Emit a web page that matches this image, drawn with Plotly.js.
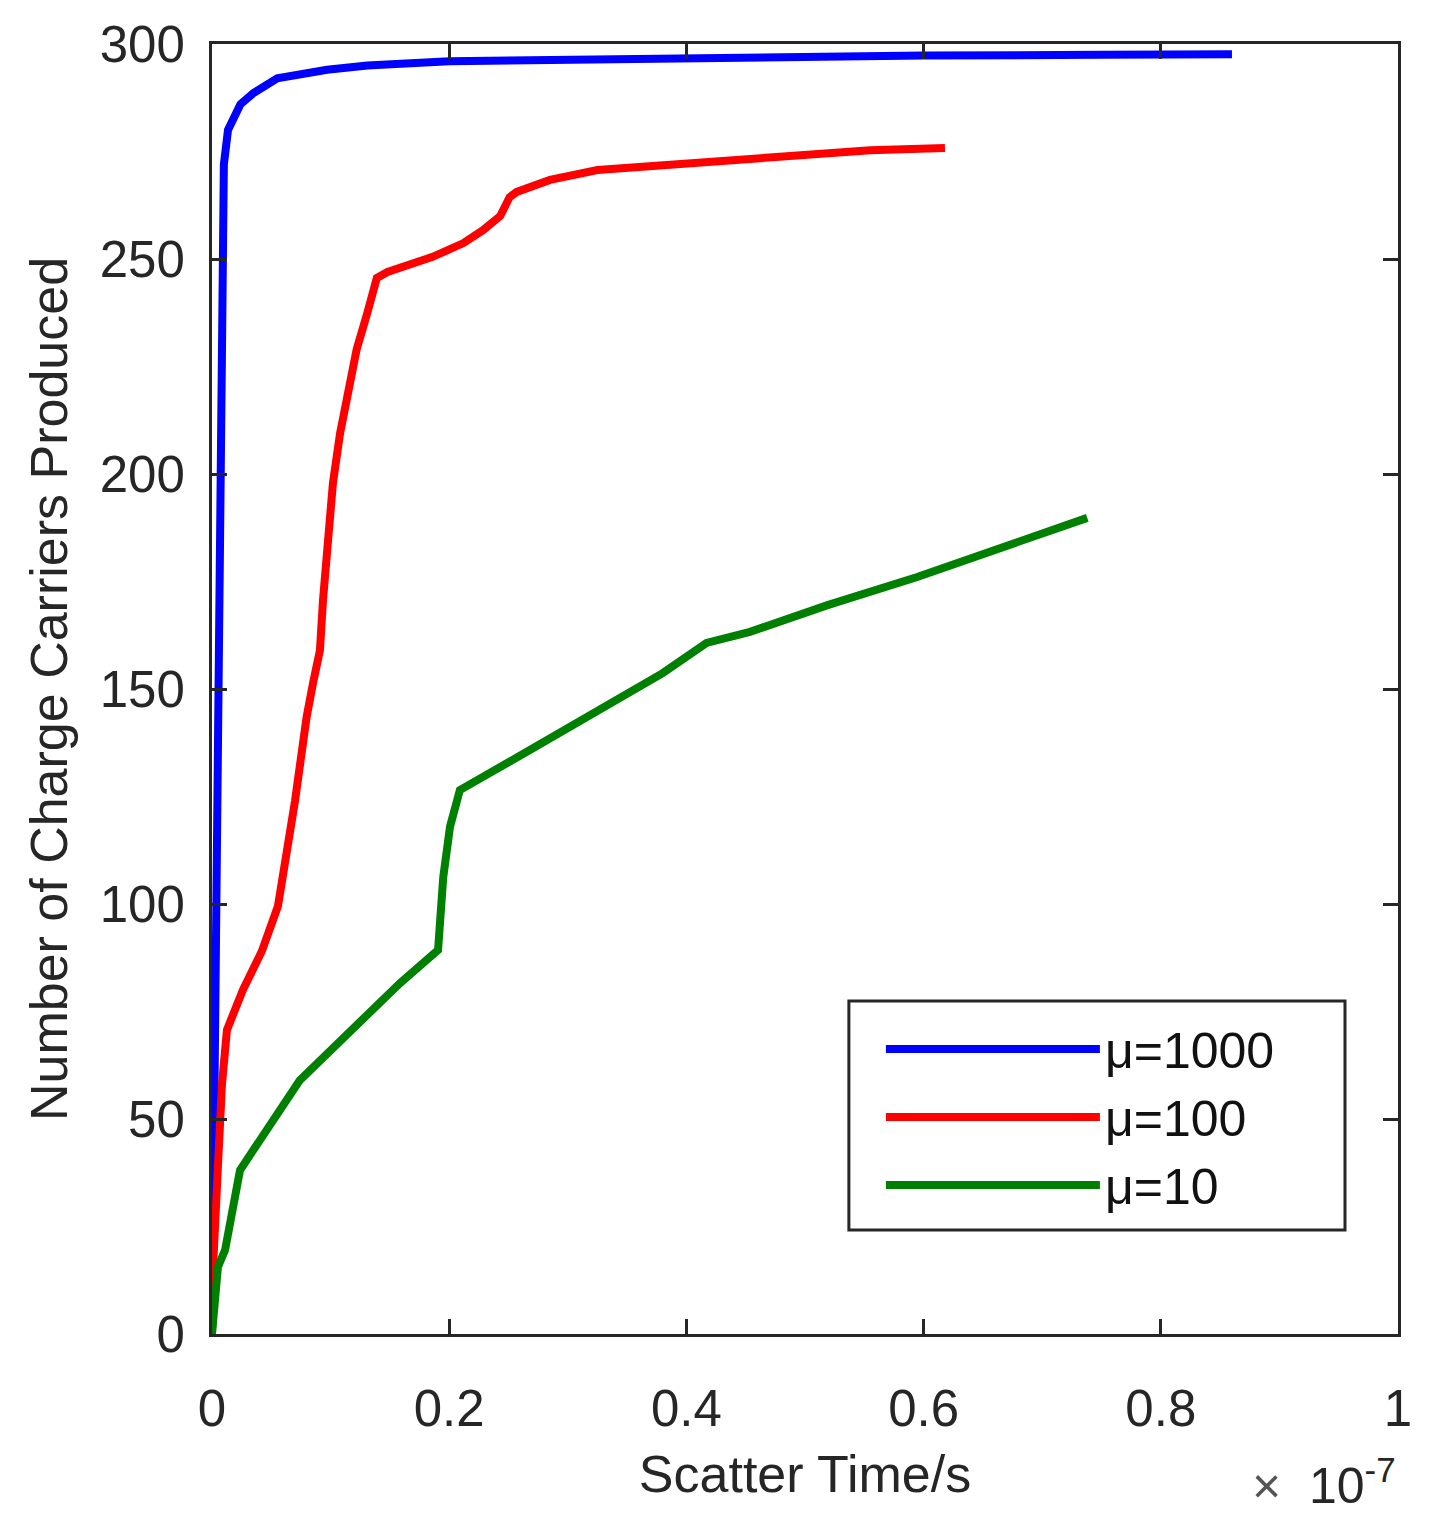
<!DOCTYPE html>
<html>
<head>
<meta charset="utf-8">
<script src="https://cdn.plot.ly/plotly-3.0.1.min.js"></script>
<style>
  body { margin: 0; background: #fff; }
  #chart { width: 1432px; height: 1536px; }
</style>
</head>
<body>
<div id="chart"></div>
<script>
// time in units of 1e-7 s, carriers produced
var tBlue = [0, 0.001, 0.002, 0.0025, 0.003, 0.004, 0.0055, 0.0075, 0.0085, 0.009, 0.010, 0.0135, 0.024, 0.035, 0.055, 0.097, 0.131, 0.2, 0.33, 0.45, 0.6, 0.75, 0.86];
var nBlue = [0, 30, 65, 90, 105, 124, 160, 210, 235, 257, 272, 280, 286, 288.6, 292, 294, 295, 296, 296.5, 297, 297.3, 297.5, 297.6];

var tRed = [0, 0.0008, 0.005, 0.0084, 0.0126, 0.026, 0.042, 0.0556, 0.070, 0.0742, 0.0798, 0.0852, 0.091, 0.0936, 0.0978, 0.102, 0.108, 0.1136, 0.122, 0.131, 0.139, 0.148, 0.186, 0.212, 0.2285, 0.243, 0.251, 0.257, 0.285, 0.325, 0.411, 0.496, 0.555, 0.618];
var nRed = [0, 15, 39, 58, 70.7, 80, 89, 99.5, 124, 134, 143.5, 151.4, 159, 170.7, 186.3, 198, 209.5, 217.2, 229, 237.5, 245.6, 247, 250.5, 253.7, 256.7, 260, 264.4, 265.6, 268.4, 270.7, 272.5, 274, 275.3, 275.8];

var tGreen = [0, 0.005, 0.011, 0.017, 0.0236, 0.074, 0.110, 0.1585, 0.1906, 0.195, 0.2007, 0.209, 0.268, 0.33, 0.38, 0.417, 0.4536, 0.519, 0.594, 0.738];
var nGreen = [0, 15.6, 19.5, 27.3, 38.1, 59, 68.4, 81.6, 89.3, 106.3, 118, 126.5, 135.8, 145.8, 153.7, 160.7, 163.3, 169.5, 176, 189.8];

var names = ['\u03bc=1000', '\u03bc=100', '\u03bc=10'];
var ink = '#262626';
var fontFam = 'Liberation Sans, Arial, sans-serif';

var trace0 = {x: tBlue, y: nBlue, mode: 'lines', type: 'scatter', name: names[0], line: {color: '#0000ff', width: 8}};
var trace1 = {x: tRed, y: nRed, mode: 'lines', type: 'scatter', name: names[1], line: {color: '#ff0000', width: 8}};
var trace2 = {x: tGreen, y: nGreen, mode: 'lines', type: 'scatter', name: names[2], line: {color: '#008000', width: 8}};

var axisStyle = {
  showline: true, mirror: 'ticks', linecolor: ink, linewidth: 3,
  ticks: 'inside', ticklen: 15, tickwidth: 3, tickcolor: ink,
  showgrid: false, zeroline: false,
  tickfont: {size: 51, color: ink, family: fontFam}
};

var layout = {
  width: 1432, height: 1536,
  margin: {t: 44, r: 34, l: 212, b: 202},
  paper_bgcolor: '#fff', plot_bgcolor: '#fff',
  font: {family: fontFam, color: ink},
  showlegend: true,
  xaxis: Object.assign({}, axisStyle, {
    range: [0, 1], dtick: 0.2, ticklabelstandoff: 28,
    title: {text: 'Scatter Time/s', font: {size: 52, color: ink}, standoff: 20}
  }),
  yaxis: Object.assign({}, axisStyle, {
    range: [0, 300], dtick: 50, ticklabelstandoff: 14,
    title: {text: 'Number of Charge Carriers Produced', font: {size: 52, color: ink}, standoff: 16}
  }),
  legend: {
    x: 0.564, y: 0.2512, xanchor: 'left', yanchor: 'top',
    bgcolor: 'rgba(0,0,0,0)', borderwidth: 0,
    font: {size: 50, color: '#111'}, itemwidth: 214, tracegroupgap: 0
  },
  // legend frame
  shapes: [{
    type: 'rect', xref: 'paper', yref: 'paper',
    x0: 0.537, x1: 0.9553, y0: 0.0806, y1: 0.2581,
    line: {color: ink, width: 3}, fillcolor: '#fff', layer: 'below'
  }],
  annotations: [{
    xref: 'paper', yref: 'paper', x: 1, y: -0.088, xanchor: 'right', yanchor: 'top',
    text: '<span style="color:#555">\u00d7</span>  10<sup>-7</sup>', showarrow: false, font: {size: 50, color: ink}
  }]
};

Plotly.newPlot('chart', [trace0, trace1, trace2], layout, {displayModeBar: false});
</script>
</body>
</html>
